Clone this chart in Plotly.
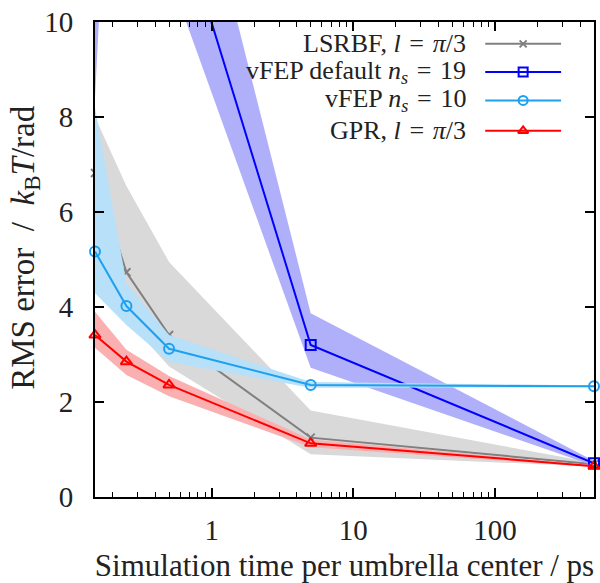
import math
import plotly.graph_objects as go

# Simulation time per umbrella center (ps)
sim_time = [0.15, 0.25, 0.5, 5, 500]

# LSRBF, l = pi/3
lsrbf_mean = [6.82, 4.73, 3.41, 1.25, 0.69]
lsrbf_high = [8.0, 6.55, 4.95, 1.82, 0.72]
lsrbf_low = [5.0, 3.75, 2.75, 0.90, 0.64]

# vFEP default n_s = 19
vfep19_mean = [25.0, 30.0, 12.9, 3.20, 0.71]
vfep19_high = [30.0, 40.0, 15.7, 3.87, 0.76]
vfep19_low = [8.4, 21.4, 11.0, 2.72, 0.66]

# vFEP n_s = 10
vfep10_mean = [5.17, 4.02, 3.12, 2.36, 2.33]
vfep10_high = [8.2, 4.5, 3.41, 2.42, 2.35]
vfep10_low = [4.29, 3.62, 2.84, 2.30, 2.31]

# GPR, l = pi/3
gpr_mean = [3.41, 2.85, 2.36, 1.13, 0.65]
gpr_high = [3.9, 3.1, 2.55, 1.21, 0.67]
gpr_low = [3.14, 2.57, 2.12, 1.05, 0.63]

x_ticks = [1, 10, 100]
y_ticks = [0, 2, 4, 6, 8, 10]

FONT = "Liberation Serif"
INK = "#222222"
EQ = "&#8196;=&#8196;"

series = [
    dict(name=f"LSRBF, <i>l</i>{EQ}<i>π</i>/3", mean=lsrbf_mean, hi=lsrbf_high, lo=lsrbf_low,
         line="#808080", band="#d9d9d9", symbol="x-thin", msize=8),
    dict(name=f"vFEP default <i>n<sub>s</sub></i>{EQ}19", mean=vfep19_mean, hi=vfep19_high, lo=vfep19_low,
         line="#0000ff", band="#b0b0fa", symbol="square-open", msize=10),
    dict(name=f"vFEP <i>n<sub>s</sub></i>{EQ}10", mean=vfep10_mean, hi=vfep10_high, lo=vfep10_low,
         line="#1ea0f0", band="#b8e0f8", symbol="circle-open", msize=10),
    dict(name=f"GPR, <i>l</i>{EQ}<i>π</i>/3", mean=gpr_mean, hi=gpr_high, lo=gpr_low,
         line="#ff0000", band="#fab0b0", symbol="triangle-up-open", msize=10),
]

fig = go.Figure()

for s in series:
    # shaded spread band
    fig.add_trace(go.Scatter(
        x=sim_time + sim_time[::-1],
        y=s["hi"] + s["lo"][::-1],
        fill="toself", fillcolor=s["band"], mode="none",
        hoverinfo="skip", showlegend=False,
    ))
    # mean curve
    fig.add_trace(go.Scatter(
        x=sim_time, y=s["mean"], mode="lines",
        line=dict(color=s["line"], width=2), showlegend=False,
    ))
    # point markers (allowed to overhang the frame)
    fig.add_trace(go.Scatter(
        x=sim_time, y=s["mean"], mode="markers", cliponaxis=False,
        marker=dict(symbol=s["symbol"], size=s["msize"], color=s["line"],
                    line=dict(color=s["line"], width=2)),
        showlegend=False,
    ))

# Key drawn on an overlay axis pair spanning [0, 1] x [0, 1]
key_rows = [0.954, 0.895, 0.835, 0.771]
key_x0, key_x1, key_xm, key_text_x = 0.782, 0.934, 0.858, 0.745
annotations = []
for s, yr in zip(series, key_rows):
    fig.add_trace(go.Scatter(
        x=[key_x0, key_x1], y=[yr, yr], mode="lines", xaxis="x2", yaxis="y2",
        line=dict(color=s["line"], width=2), showlegend=False, hoverinfo="skip",
    ))
    fig.add_trace(go.Scatter(
        x=[key_xm], y=[yr], mode="markers", xaxis="x2", yaxis="y2",
        marker=dict(symbol=s["symbol"], size=s["msize"] - 1, color=s["line"],
                    line=dict(color=s["line"], width=2)),
        showlegend=False, hoverinfo="skip",
    ))
    annotations.append(dict(
        x=key_text_x, y=yr, xref="x2", yref="y2", text=s["name"],
        xanchor="right", yanchor="middle", showarrow=False, borderpad=0,
        font=dict(family=FONT, size=26, color=INK),
    ))

# y-axis title placed as a rotated annotation
annotations.append(dict(
    x=-0.14, y=0.525, xref="paper", yref="paper",
    text="RMS error&#8194;/&#8194;<i>k</i><sub>B</sub><i>T</i>/rad",
    textangle=-90, showarrow=False, xanchor="center", yanchor="middle",
    font=dict(family=FONT, size=33, color=INK),
))

fig.update_layout(
    width=600, height=583,
    margin=dict(l=95, r=4, t=22, b=83),
    paper_bgcolor="white", plot_bgcolor="white",
    font=dict(family=FONT, size=28, color=INK),
    showlegend=False,
    annotations=annotations,
    xaxis=dict(
        type="log", range=[math.log10(sim_time[0]), math.log10(sim_time[-1])],
        tickvals=x_ticks, ticktext=[str(v) for v in x_ticks],
        ticks="inside", ticklen=9, tickwidth=1.5, tickcolor="black",
        minor=dict(ticks="inside", ticklen=5, tickwidth=1.2, tickcolor="black",
                   dtick="D1", showgrid=False),
        showline=True, linewidth=2, linecolor="black", mirror="allticks",
        showgrid=False, zeroline=False,
        ticklabelstandoff=6,
        tickfont=dict(family=FONT, size=29, color=INK),
        title=dict(text="Simulation time per umbrella center / ps",
                   font=dict(family=FONT, size=31, color=INK), standoff=12),
    ),
    yaxis=dict(
        range=[0, 10], tickvals=y_ticks,
        ticks="inside", ticklen=9, tickwidth=1.5, tickcolor="black",
        showline=True, linewidth=2, linecolor="black", mirror="allticks",
        showgrid=False, zeroline=False,
        ticklabelstandoff=14,
        tickfont=dict(family=FONT, size=29, color=INK),
    ),
    xaxis2=dict(overlaying="x", range=[0, 1], visible=False, fixedrange=True),
    yaxis2=dict(overlaying="y", range=[0, 1], visible=False, fixedrange=True),
)

fig.write_html("out.html")
